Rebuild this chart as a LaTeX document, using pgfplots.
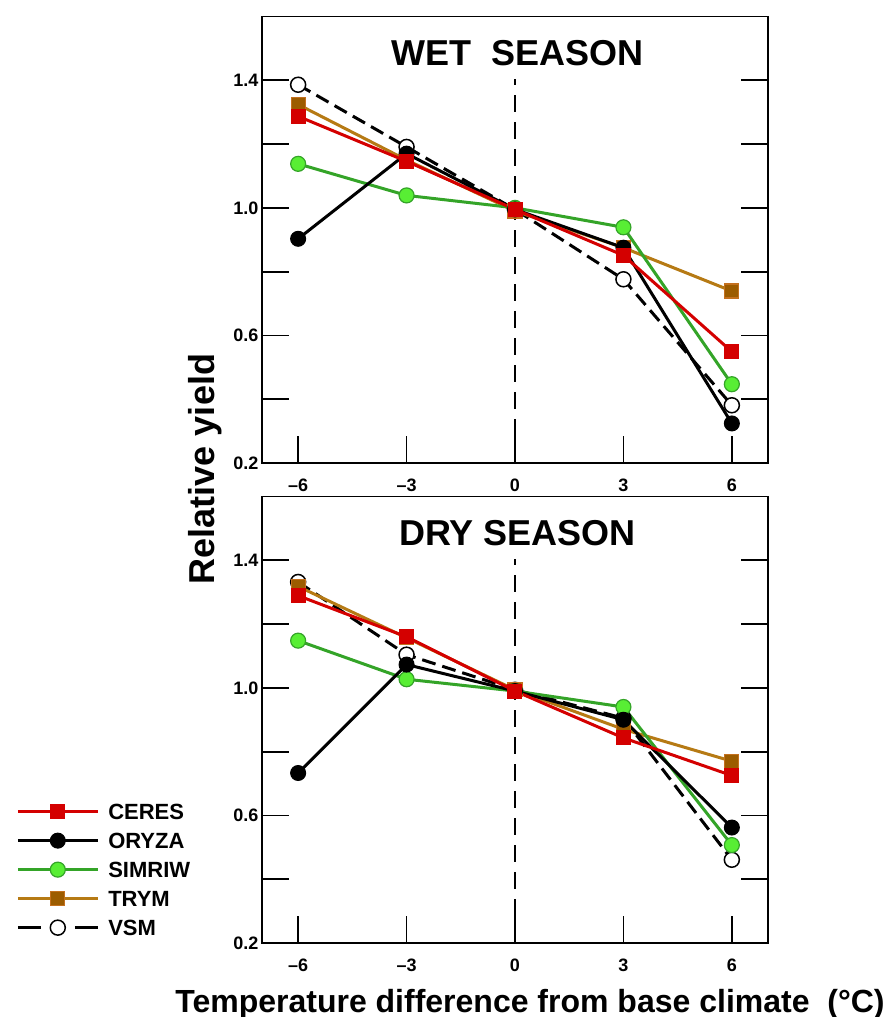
\documentclass[border=0pt]{standalone}
\usepackage{fontspec}
\setmainfont{Liberation Sans}
\usepackage{pgfplots}
\pgfplotsset{compat=1.18}

\definecolor{ceresred}{RGB}{212,0,0}
\definecolor{simline}{RGB}{52,164,40}
\definecolor{simfill}{RGB}{88,238,52}
\definecolor{trymline}{RGB}{182,122,20}
\definecolor{trymfill}{RGB}{156,92,0}
\definecolor{trymedge}{RGB}{196,112,30}

\pgfplotsset{
  legend image code/.code={\draw[mark repeat=2,mark phase=2,#1] plot coordinates {(0pt,0pt) (40pt,0pt) (80pt,0pt)};},
}
\pgfplotsset{
  panel/.style={
    scale only axis, width=506pt, height=446.5pt, anchor=south west,
    xmin=-7, xmax=7, ymin=0.2, ymax=1.6,
    xtick={-6,-3,0,3,6}, xticklabels={\textendash6,\textendash3,0,3,6},
    ytick={0.2,0.6,1.0,1.4}, yticklabels={0.2,0.6,1.0,1.4},
    minor ytick={0.4,0.8,1.2},
    tick align=inside, xtick pos=left, ytick pos=both,
    major tick length=27pt, minor tick length=27pt,
    every tick/.style={black, line width=1.8pt},
    axis line style={line width=1.8pt},
    tick label style={font=\fontsize{18}{20}\selectfont\bfseries},
    xticklabel style={yshift=-12pt},
  },
  sCeres/.style={ceresred, line width=3pt, mark=square*, mark size=7pt,
    mark options={solid, fill=ceresred, draw=ceresred, line width=1pt}},
  sOryza/.style={black, line width=3pt, mark=*, mark size=7.5pt,
    mark options={solid, fill=black, line width=1pt}},
  sSimriw/.style={simline, line width=3pt, mark=*, mark size=7.5pt,
    mark options={solid, fill=simfill, draw=simline, line width=1.2pt}},
  sTrym/.style={trymline, line width=3pt, mark=square*, mark size=7pt,
    mark options={solid, fill=trymfill, draw=trymedge, line width=1.2pt}},
  sVsm/.style={black, line width=3pt, dash pattern=on 14pt off 7pt, mark=*, mark size=7.5pt,
    mark options={solid, fill=white, draw=black, line width=1.5pt},
    legend image code/.code={\draw[mark repeat=2,mark phase=2,##1,dash pattern=on 23pt off 34pt] plot coordinates {(0pt,0pt) (40pt,0pt) (80pt,0pt)};}},
  sZero/.style={black, line width=1.5pt, dash pattern=on 17pt off 10pt, forget plot},
}

\begin{document}
\begin{tikzpicture}

% WET SEASON
\begin{axis}[panel, at={(262pt,554pt)}]
\addplot[sZero] coordinates {(0,0.2) (0,1.405)};
\addplot[sVsm] coordinates {(-6,1.386) (-3,1.191) (0,0.995) (3,0.776) (6,0.381)};
\addplot[sTrym] coordinates {(-6,1.324) (-3,1.150) (0,0.990) (3,0.875) (6,0.739)};
\addplot[sSimriw] coordinates {(-6,1.138) (-3,1.039) (0,1.000) (3,0.939) (6,0.447)};
\addplot[sOryza] coordinates {(-6,0.903) (-3,1.170) (0,0.995) (3,0.875) (6,0.324)};
\addplot[sCeres] coordinates {(-6,1.287) (-3,1.146) (0,0.995) (3,0.851) (6,0.549)};
\node[font=\fontsize{36}{40}\selectfont\bfseries] at (axis cs:0.07,1.486) {WET\ \ SEASON};
\end{axis}

% DRY SEASON
\begin{axis}[panel, at={(262pt,74pt)},
  reverse legend,
  legend style={at={(axis description cs:-0.486,0.312)}, anchor=north west,
    draw=none, fill=none, inner sep=0pt, row sep=13.5pt, cells={anchor=west},
    nodes={inner sep=0pt, text height=15.5pt, text depth=0pt, font=\fontsize{22}{24}\selectfont\bfseries},
    /tikz/every odd column/.append style={column sep=9pt}},
]
\addplot[sZero] coordinates {(0,0.2) (0,1.405)};
\addplot[sVsm] coordinates {(-6,1.332) (-3,1.104) (0,0.994) (3,0.905) (6,0.461)};
\addlegendentry{VSM}
\addplot[sTrym] coordinates {(-6,1.318) (-3,1.157) (0,0.994) (3,0.870) (6,0.770)};
\addlegendentry{TRYM}
\addplot[sSimriw] coordinates {(-6,1.148) (-3,1.027) (0,0.990) (3,0.940) (6,0.507)};
\addlegendentry{SIMRIW}
\addplot[sOryza] coordinates {(-6,0.733) (-3,1.073) (0,0.990) (3,0.900) (6,0.562)};
\addlegendentry{ORYZA}
\addplot[sCeres] coordinates {(-6,1.289) (-3,1.160) (0,0.990) (3,0.843) (6,0.725)};
\addlegendentry{CERES}
\node[font=\fontsize{36}{40}\selectfont\bfseries] at (axis cs:0.07,1.486) {DRY SEASON};
\end{axis}

\node[rotate=90, anchor=base, font=\fontsize{36}{40}\selectfont\bfseries] at (214pt,548pt) {Relative yield};
\node[anchor=base, font=\fontsize{32}{36}\selectfont\bfseries] at (530pt,5pt) {Temperature difference from base climate\ \ (°C)};

\pgfresetboundingbox
\path[use as bounding box] (0,0) rectangle (889pt,1017pt);
\end{tikzpicture}
\end{document}
